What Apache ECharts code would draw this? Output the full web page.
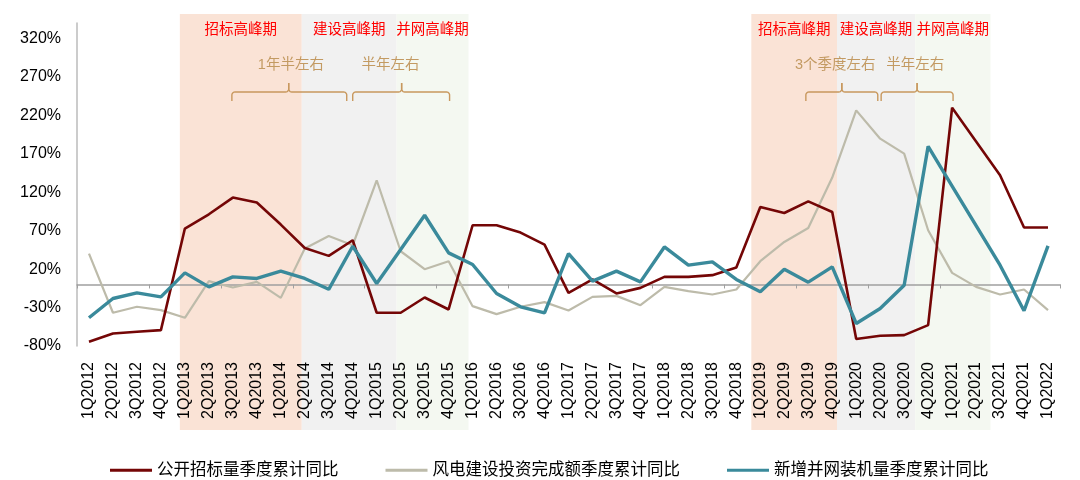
<!DOCTYPE html>
<html><head><meta charset="utf-8">
<script src="https://cdn.jsdelivr.net/npm/echarts@6/dist/echarts.min.js"></script>
<style>html,body{margin:0;padding:0;background:#fff}#c{width:1080px;height:480px}</style>
</head><body><div id="c"></div>
<script>
// ---------- data ----------
const categories = ['1Q2012','2Q2012','3Q2012','4Q2012','1Q2013','2Q2013','3Q2013','4Q2013','1Q2014','2Q2014',
  '3Q2014','4Q2014','1Q2015','2Q2015','3Q2015','4Q2015','1Q2016','2Q2016','3Q2016','4Q2016',
  '1Q2017','2Q2017','3Q2017','4Q2017','1Q2018','2Q2018','3Q2018','4Q2018','1Q2019','2Q2019',
  '3Q2019','4Q2019','1Q2020','2Q2020','3Q2020','4Q2020','1Q2021','2Q2021','3Q2021','4Q2021','1Q2022'];
const seriesNames = ['公开招标量季度累计同比','风电建设投资完成额季度累计同比','新增并网装机量季度累计同比'];
const tenderYoY = [-74.5,-63.7,-61.5,-59.4,72.7,91.3,113,106.5,77.9,47.5,
  37.2,57.5,-36.8,-36.8,-16.9,-32.5,77,77,67.5,51.9,
  -10.9,6.5,-11.7,-4.4,9.9,9.9,12.1,22.1,100.8,93,
  108,94.3,-71,-66.7,-65.8,-52.9,229.9,186,142,74,74];
const investYoY = [40.2,-36.8,-29,-33.4,-43.3,4.3,-3.9,3.4,-17.4,46.7,
  63,51,135.5,43.2,19.9,30.3,-28.2,-38.6,-29,-23,
  -33.8,-16.1,-14.8,-26.9,-3.1,-8.7,-13,-6.5,30.3,55.3,
  73.5,139,226.4,189.6,170.1,70.5,15.1,-3.1,-13,-6.5,-33.4];
const gridYoY = [-43.3,-18.2,-10.9,-16.1,15.1,-3.1,9.9,7.8,17.3,7.8,
  -6.3,49.7,1.3,45.5,90,41.1,26,-11.7,-29,-36.8,
  40.2,4.3,17.3,3.4,48.8,25.1,29.4,6.5,-9.6,19.9,
  3,22.9,-50.7,-31.2,-0.9,179.6,128,76.6,25.1,-34.2,50.2];
const yTicks = {min:-80, max:340, interval:50};
const periodLabels = ['招标高峰期','建设高峰期','并网高峰期','招标高峰期','建设高峰期','并网高峰期'];
const durationLabels = ['1年半左右','半年左右','3个季度左右','半年左右'];

// ---------- annotation layout (in category-index units) ----------
const periodBounds = [[3.79,8.875],[8.875,12.83],[12.83,15.83],[27.625,31.2],[31.2,34.46],[34.46,37.6]];
const periodColors = ['#FAE3D6','#F1F1F1','#F4F8F1','#FAE3D6','#F1F1F1','#F4F8F1'];
const braces = [[5.96,8.33,10.75],[11.0,13.04,15.04],[29.9,31.4,32.9],[33.04,34.54,36.04]];
const durationPos = [8.42,12.58,31.125,34.46];

const FONT = "'Liberation Sans', Arial, 'Noto Sans CJK SC', sans-serif";
const colors = ['#740606','#BDBBAA','#3A8A9B'];

const chart = echarts.init(document.getElementById('c'), null, {renderer:'canvas'});
chart.setOption({
  animation:false,
  textStyle:{fontFamily:FONT},
  color: colors,
  grid:{left:77,right:20,top:23,bottom:134,containLabel:false},
  legend:{
    data: seriesNames.map((n,i)=>({name:n, icon:'rect', itemStyle:{color:colors[i]}})),
    left:105, top:457, itemWidth:42, itemHeight:3, itemGap:47,
    textStyle:{fontSize:16.5, color:'#000', fontFamily:FONT}
  },
  xAxis:[{
    type:'category', data:categories, boundaryGap:true,
    axisLine:{show:true, onZero:true, lineStyle:{color:'#A0A0A0', width:1.5}},
    axisTick:{show:true, length:4, lineStyle:{color:'#A0A0A0', width:1}},
    axisLabel:{show:false}, splitLine:{show:false}
  },{
    type:'category', data:categories, boundaryGap:true, position:'bottom',
    axisLine:{show:false, onZero:false}, axisTick:{show:false}, splitLine:{show:false},
    axisLabel:{show:true, rotate:90, interval:0, margin:16, fontSize:16, color:'#000', fontFamily:FONT}
  }],
  yAxis:{
    type:'value', min:yTicks.min, max:yTicks.max, interval:yTicks.interval,
    axisLine:{show:true, lineStyle:{color:'#BBBBBB', width:1.5}},
    axisTick:{show:false}, splitLine:{show:false},
    axisLabel:{fontSize:16, color:'#000', margin:16, showMaxLabel:false, fontFamily:FONT,
      formatter:v=>(((Math.round(v)+80)%50===0) ? Math.round(v)+'%' : '')}
  },
  series:[
    {name:seriesNames[0], type:'line', data:tenderYoY, showSymbol:false, symbol:'none', z:4,
      lineStyle:{color:colors[0], width:2.6}},
    {name:seriesNames[1], type:'line', data:investYoY, showSymbol:false, symbol:'none', z:3,
      lineStyle:{color:colors[1], width:2.2}},
    {name:seriesNames[2], type:'line', data:gridYoY, showSymbol:false, symbol:'none', z:5,
      lineStyle:{color:colors[2], width:3.4}}
  ]
});

function idxToX(idx){
  const p0 = chart.convertToPixel({xAxisIndex:0}, categories[0]);
  const p1 = chart.convertToPixel({xAxisIndex:0}, categories[1]);
  return p0 + (p1-p0)*idx;
}
function arc(cx, cy, r, a0, a1){
  const pts = [];
  for (let k=0;k<=6;k++){ const a = a0+(a1-a0)*k/6; pts.push([cx+r*Math.cos(a), cy+r*Math.sin(a)]); }
  return pts;
}
const graphics = [];
periodBounds.forEach((b,i)=>{
  const x0 = idxToX(b[0]), x1 = idxToX(b[1]);
  graphics.push({type:'rect', z:-10, silent:true,
    shape:{x:x0, y:14, width:x1-x0, height:416}, style:{fill:periodColors[i]}});
  graphics.push({type:'text', z:10, silent:true, x:(x0+x1)/2, y:30,
    style:{text:periodLabels[i], fill:'#FF0000', font:"14.5px "+FONT, align:'center', verticalAlign:'middle'}});
});
const braceColor = '#C8985E';
braces.forEach((b)=>{
  const a = idxToX(b[0]), m = idxToX(b[1]), e = idxToX(b[2]);
  const yT = 92, yB = 101, yP = 83, r = 3, P = Math.PI;
  let left = [[a,yB]].concat(arc(a+r, yT+r, r, P, 1.5*P), arc(m-r, yT-r, r, 0.5*P, 0), [[m,yP]]);
  let right = [[m,yP]].concat(arc(m+r, yT-r, r, P, 0.5*P), arc(e-r, yT+r, r, 1.5*P, 2*P), [[e,yB]]);
  graphics.push({type:'polyline', z:10, silent:true, shape:{points:left},
    style:{fill:null, stroke:braceColor, lineWidth:1.4}});
  graphics.push({type:'polyline', z:10, silent:true, shape:{points:right},
    style:{fill:null, stroke:braceColor, lineWidth:1.4}});
});
durationPos.forEach((p,i)=>{
  graphics.push({type:'text', z:10, silent:true, x:idxToX(p), y:65,
    style:{text:durationLabels[i], fill:'#C39A62', font:"14.5px "+FONT, align:'center', verticalAlign:'middle'}});
});
chart.setOption({graphic:{elements:graphics}});
</script>
</body></html>
